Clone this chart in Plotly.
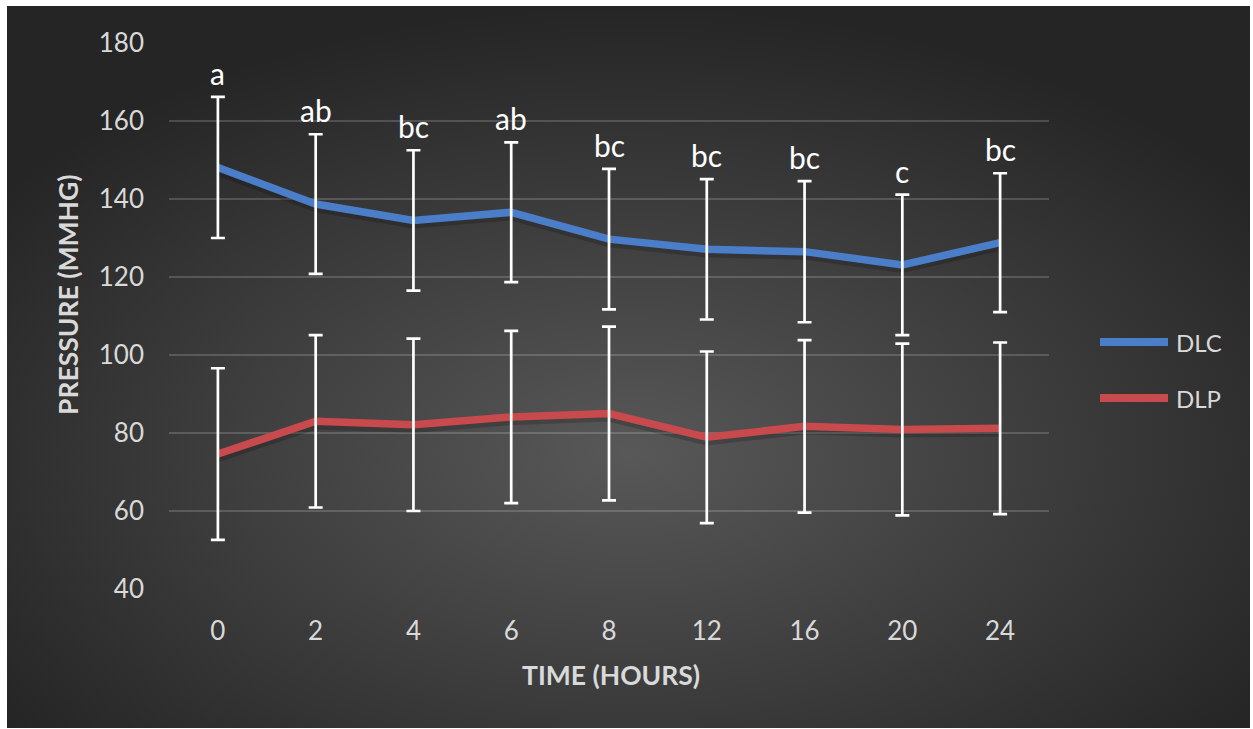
import base64
import plotly.graph_objects as go

# Sampling times (hours) and blood pressure readings (mmHg)
TIME_LABELS = ["0", "2", "4", "6", "8", "12", "16", "20", "24"]

DLC_MEAN = [148.1, 138.7, 134.5, 136.6, 129.7, 127.1, 126.5, 123.1, 128.8]
DLC_SD = [18.1, 17.9, 18.0, 17.9, 18.0, 18.0, 18.1, 18.0, 17.8]

DLP_MEAN = [74.6, 83.0, 82.1, 84.1, 85.0, 78.9, 81.7, 80.9, 81.2]
DLP_SD = [22.0, 22.1, 22.1, 22.1, 22.3, 22.0, 22.1, 22.0, 22.0]

# Significance letters shown above the DLC error bars
DLC_LETTERS = ["a", "ab", "bc", "ab", "bc", "bc", "bc", "c", "bc"]

SERIES = [
    ("DLC", DLC_MEAN, DLC_SD, "#4A7EC9"),
    ("DLP", DLP_MEAN, DLP_SD, "#C94A4C"),
]

FONT = "Lato, 'Open Sans', sans-serif"
TEXT_COLOR = "#D9D9D9"

# Plot area geometry (pixels)
W, H = 1253, 729
L, R, T, B = 169, 204, 43, 140
PW, PH = W - L - R, H - T - B


def px_x(p):
    return (p - L) / PW


def px_y(p):
    return (H - B - p) / PH


fig = go.Figure()

# soft shadow beneath each line
for name, mean, sd, color in SERIES:
    fig.add_trace(go.Scatter(
        x=TIME_LABELS, y=[v - 0.8 for v in mean], mode="lines",
        line=dict(color="rgba(0,0,0,0.18)", width=10),
        hoverinfo="skip", showlegend=False,
    ))

for name, mean, sd, color in SERIES:
    fig.add_trace(go.Scatter(
        x=TIME_LABELS, y=mean, mode="lines", name=name,
        line=dict(color=color, width=7.5),
        showlegend=False,
    ))

# standard deviation bars drawn over the lines
for name, mean, sd, color in SERIES:
    fig.add_trace(go.Scatter(
        x=TIME_LABELS, y=mean, mode="markers",
        marker=dict(size=1, opacity=0),
        error_y=dict(type="data", array=sd, visible=True,
                     color="#FFFFFF", thickness=2.7, width=7),
        hoverinfo="skip", showlegend=False,
    ))

# letters above the DLC error bars (positioned by category index)
for i, (m, s, lab) in enumerate(zip(DLC_MEAN, DLC_SD, DLC_LETTERS)):
    fig.add_annotation(
        x=i, y=m + s, text=lab, showarrow=False,
        xanchor="center", yanchor="bottom", yshift=4,
        font=dict(family=FONT, size=30, color="#FFFFFF"),
    )

# radial dark background
svg = (
    "<svg xmlns='http://www.w3.org/2000/svg' width='1243' height='722' "
    "viewBox='0 0 1243 722' preserveAspectRatio='none'>"
    "<defs><radialGradient id='g' cx='0.5' cy='0.62' r='0.62'>"
    "<stop offset='0' stop-color='#585858'/>"
    "<stop offset='1' stop-color='#252525'/>"
    "</radialGradient></defs>"
    "<rect width='1243' height='722' fill='url(#g)'/></svg>"
)
bg_uri = "data:image/svg+xml;base64," + base64.b64encode(svg.encode()).decode()
fig.add_layout_image(
    source=bg_uri, xref="paper", yref="paper",
    x=px_x(7), y=px_y(6), sizex=px_x(1250) - px_x(7), sizey=px_y(6) - px_y(728),
    xanchor="left", yanchor="top", sizing="stretch", layer="below",
)

# legend drawn by hand
for i, (name, mean, sd, color) in enumerate(SERIES):
    ly = px_y(342 + 56 * i)
    fig.add_shape(type="line", xref="paper", yref="paper",
                  x0=px_x(1100), x1=px_x(1168), y0=ly, y1=ly,
                  line=dict(color=color, width=8))
    fig.add_annotation(x=px_x(1174), y=ly, xref="paper", yref="paper",
                       text=name, showarrow=False, xanchor="left", yanchor="middle",
                       font=dict(family=FONT, size=24, color=TEXT_COLOR))

# axis titles
fig.add_annotation(x=px_x(68), y=px_y(295), xref="paper", yref="paper",
                   text="<b>PRESSURE (MMHG)</b>", textangle=-90, showarrow=False,
                   xanchor="center", yanchor="middle",
                   font=dict(family=FONT, size=26.5, color=TEXT_COLOR))
fig.add_annotation(x=px_x(611), y=px_y(675), xref="paper", yref="paper",
                   text="<b>TIME (HOURS)</b>", showarrow=False,
                   xanchor="center", yanchor="middle",
                   font=dict(family=FONT, size=26.5, color=TEXT_COLOR))

fig.update_layout(
    width=W, height=H,
    margin=dict(l=L, r=R, t=T, b=B, pad=0),
    paper_bgcolor="#FFFFFF",
    plot_bgcolor="rgba(0,0,0,0)",
    showlegend=False,
    font=dict(family=FONT, color=TEXT_COLOR),
    xaxis=dict(
        type="category", categoryorder="array", categoryarray=TIME_LABELS,
        range=[-0.5, len(TIME_LABELS) - 0.5],
        showgrid=False, zeroline=False, showline=False, ticks="",
        tickfont=dict(family=FONT, size=26, color=TEXT_COLOR),
        ticklabelstandoff=24,
    ),
    yaxis=dict(
        range=[40, 180], tickvals=[40, 60, 80, 100, 120, 140, 160, 180],
        showgrid=True, gridcolor="rgba(255,255,255,0.17)", gridwidth=1.5,
        zeroline=False, showline=False, ticks="",
        tickfont=dict(family=FONT, size=26, color=TEXT_COLOR),
        ticklabelstandoff=24,
    ),
)

fig.write_html("out.html")
